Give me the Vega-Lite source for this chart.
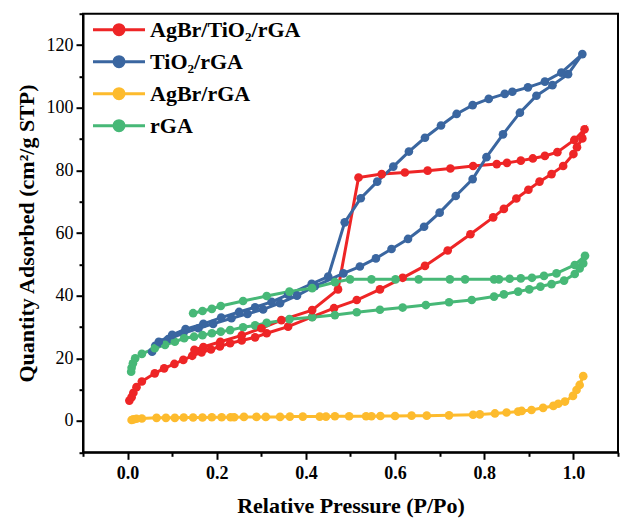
{
  "$schema": "https://vega.github.io/schema/vega-lite/v6.json",
  "width": 535,
  "height": 438.6,
  "autosize": {"type": "none"},
  "padding": {"left": 83, "top": 13.7, "right": 14, "bottom": 68.7},
  "background": "white",
  "config": {"view": {"stroke": "black", "strokeWidth": 2}, "font": "Liberation Serif"},
  "data": {"values": [
    {"s":"AgBr/TiO₂/rGA","i":1,"P":0.004,"Q":6.5},{"s":"AgBr/TiO₂/rGA","i":2,"P":0.009,"Q":7.6},{"s":"AgBr/TiO₂/rGA","i":3,"P":0.013,"Q":9.0},{"s":"AgBr/TiO₂/rGA","i":4,"P":0.020,"Q":10.8},{"s":"AgBr/TiO₂/rGA","i":5,"P":0.032,"Q":12.6},{"s":"AgBr/TiO₂/rGA","i":6,"P":0.061,"Q":15.2},{"s":"AgBr/TiO₂/rGA","i":7,"P":0.082,"Q":16.8},{"s":"AgBr/TiO₂/rGA","i":8,"P":0.105,"Q":18.2},{"s":"AgBr/TiO₂/rGA","i":9,"P":0.125,"Q":19.5},{"s":"AgBr/TiO₂/rGA","i":10,"P":0.145,"Q":20.8},{"s":"AgBr/TiO₂/rGA","i":11,"P":0.166,"Q":21.9},{"s":"AgBr/TiO₂/rGA","i":12,"P":0.187,"Q":22.8},{"s":"AgBr/TiO₂/rGA","i":13,"P":0.207,"Q":23.8},{"s":"AgBr/TiO₂/rGA","i":14,"P":0.230,"Q":24.8},{"s":"AgBr/TiO₂/rGA","i":15,"P":0.256,"Q":25.7},{"s":"AgBr/TiO₂/rGA","i":16,"P":0.286,"Q":26.7},{"s":"AgBr/TiO₂/rGA","i":17,"P":0.312,"Q":28.0},{"s":"AgBr/TiO₂/rGA","i":18,"P":0.360,"Q":30.1},{"s":"AgBr/TiO₂/rGA","i":19,"P":0.414,"Q":33.2},{"s":"AgBr/TiO₂/rGA","i":20,"P":0.463,"Q":36.0},{"s":"AgBr/TiO₂/rGA","i":21,"P":0.514,"Q":38.6},{"s":"AgBr/TiO₂/rGA","i":22,"P":0.566,"Q":42.0},{"s":"AgBr/TiO₂/rGA","i":23,"P":0.617,"Q":45.7},{"s":"AgBr/TiO₂/rGA","i":24,"P":0.667,"Q":49.5},{"s":"AgBr/TiO₂/rGA","i":25,"P":0.718,"Q":54.4},{"s":"AgBr/TiO₂/rGA","i":26,"P":0.769,"Q":59.6},{"s":"AgBr/TiO₂/rGA","i":27,"P":0.820,"Q":65.0},{"s":"AgBr/TiO₂/rGA","i":28,"P":0.844,"Q":67.7},{"s":"AgBr/TiO₂/rGA","i":29,"P":0.872,"Q":71.0},{"s":"AgBr/TiO₂/rGA","i":30,"P":0.899,"Q":73.8},{"s":"AgBr/TiO₂/rGA","i":31,"P":0.924,"Q":76.4},{"s":"AgBr/TiO₂/rGA","i":32,"P":0.951,"Q":78.8},{"s":"AgBr/TiO₂/rGA","i":33,"P":0.977,"Q":81.4},{"s":"AgBr/TiO₂/rGA","i":34,"P":1.000,"Q":85.2},{"s":"AgBr/TiO₂/rGA","i":35,"P":1.008,"Q":87.4},{"s":"AgBr/TiO₂/rGA","i":36,"P":1.020,"Q":90.2},{"s":"AgBr/TiO₂/rGA","i":37,"P":1.025,"Q":93.1},{"s":"AgBr/TiO₂/rGA","i":38,"P":1.002,"Q":89.7},{"s":"AgBr/TiO₂/rGA","i":39,"P":0.964,"Q":85.8},{"s":"AgBr/TiO₂/rGA","i":40,"P":0.936,"Q":84.6},{"s":"AgBr/TiO₂/rGA","i":41,"P":0.909,"Q":83.8},{"s":"AgBr/TiO₂/rGA","i":42,"P":0.882,"Q":83.1},{"s":"AgBr/TiO₂/rGA","i":43,"P":0.851,"Q":82.4},{"s":"AgBr/TiO₂/rGA","i":44,"P":0.828,"Q":82.0},{"s":"AgBr/TiO₂/rGA","i":45,"P":0.775,"Q":81.4},{"s":"AgBr/TiO₂/rGA","i":46,"P":0.724,"Q":80.6},{"s":"AgBr/TiO₂/rGA","i":47,"P":0.673,"Q":79.9},{"s":"AgBr/TiO₂/rGA","i":48,"P":0.622,"Q":79.3},{"s":"AgBr/TiO₂/rGA","i":49,"P":0.570,"Q":78.8},{"s":"AgBr/TiO₂/rGA","i":50,"P":0.518,"Q":77.7},{"s":"AgBr/TiO₂/rGA","i":51,"P":0.472,"Q":42.0},{"s":"AgBr/TiO₂/rGA","i":52,"P":0.414,"Q":35.4},{"s":"AgBr/TiO₂/rGA","i":53,"P":0.345,"Q":32.2},{"s":"AgBr/TiO₂/rGA","i":54,"P":0.300,"Q":29.6},{"s":"AgBr/TiO₂/rGA","i":55,"P":0.256,"Q":27.3},{"s":"AgBr/TiO₂/rGA","i":56,"P":0.208,"Q":25.3},{"s":"AgBr/TiO₂/rGA","i":57,"P":0.170,"Q":23.6},{"s":"AgBr/TiO₂/rGA","i":58,"P":0.150,"Q":22.7},

    {"s":"TiO₂/rGA","i":1,"P":0.055,"Q":22.1},{"s":"TiO₂/rGA","i":2,"P":0.062,"Q":24.0},{"s":"TiO₂/rGA","i":3,"P":0.075,"Q":25.0},{"s":"TiO₂/rGA","i":4,"P":0.091,"Q":26.1},{"s":"TiO₂/rGA","i":5,"P":0.125,"Q":28.0},{"s":"TiO₂/rGA","i":6,"P":0.159,"Q":29.6},{"s":"TiO₂/rGA","i":7,"P":0.192,"Q":31.0},{"s":"TiO₂/rGA","i":8,"P":0.233,"Q":32.8},{"s":"TiO₂/rGA","i":9,"P":0.269,"Q":34.2},{"s":"TiO₂/rGA","i":10,"P":0.304,"Q":35.6},{"s":"TiO₂/rGA","i":11,"P":0.342,"Q":37.6},{"s":"TiO₂/rGA","i":12,"P":0.380,"Q":40.0},{"s":"TiO₂/rGA","i":13,"P":0.420,"Q":43.0},{"s":"TiO₂/rGA","i":14,"P":0.484,"Q":47.1},{"s":"TiO₂/rGA","i":15,"P":0.521,"Q":49.3},{"s":"TiO₂/rGA","i":16,"P":0.557,"Q":51.9},{"s":"TiO₂/rGA","i":17,"P":0.592,"Q":54.9},{"s":"TiO₂/rGA","i":18,"P":0.629,"Q":58.1},{"s":"TiO₂/rGA","i":19,"P":0.665,"Q":62.0},{"s":"TiO₂/rGA","i":20,"P":0.700,"Q":66.5},{"s":"TiO₂/rGA","i":21,"P":0.736,"Q":71.8},{"s":"TiO₂/rGA","i":22,"P":0.774,"Q":77.2},{"s":"TiO₂/rGA","i":23,"P":0.805,"Q":84.2},{"s":"TiO₂/rGA","i":24,"P":0.842,"Q":91.5},{"s":"TiO₂/rGA","i":25,"P":0.880,"Q":98.4},{"s":"TiO₂/rGA","i":26,"P":0.917,"Q":103.8},{"s":"TiO₂/rGA","i":27,"P":0.953,"Q":107.2},{"s":"TiO₂/rGA","i":28,"P":0.988,"Q":110.7},{"s":"TiO₂/rGA","i":29,"P":1.020,"Q":117.1},{"s":"TiO₂/rGA","i":30,"P":0.973,"Q":111.2},{"s":"TiO₂/rGA","i":31,"P":0.936,"Q":108.3},{"s":"TiO₂/rGA","i":32,"P":0.898,"Q":106.5},{"s":"TiO₂/rGA","i":33,"P":0.863,"Q":105.1},{"s":"TiO₂/rGA","i":34,"P":0.846,"Q":104.4},{"s":"TiO₂/rGA","i":35,"P":0.810,"Q":102.8},{"s":"TiO₂/rGA","i":36,"P":0.774,"Q":100.8},{"s":"TiO₂/rGA","i":37,"P":0.738,"Q":98.0},{"s":"TiO₂/rGA","i":38,"P":0.703,"Q":94.3},{"s":"TiO₂/rGA","i":39,"P":0.667,"Q":90.4},{"s":"TiO₂/rGA","i":40,"P":0.631,"Q":86.0},{"s":"TiO₂/rGA","i":41,"P":0.596,"Q":81.2},{"s":"TiO₂/rGA","i":42,"P":0.560,"Q":76.4},{"s":"TiO₂/rGA","i":43,"P":0.523,"Q":71.1},{"s":"TiO₂/rGA","i":44,"P":0.487,"Q":63.4},{"s":"TiO₂/rGA","i":45,"P":0.450,"Q":46.1},{"s":"TiO₂/rGA","i":46,"P":0.413,"Q":43.8},{"s":"TiO₂/rGA","i":47,"P":0.360,"Q":40.3},{"s":"TiO₂/rGA","i":48,"P":0.323,"Q":38.0},{"s":"TiO₂/rGA","i":49,"P":0.286,"Q":36.3},{"s":"TiO₂/rGA","i":50,"P":0.250,"Q":34.8},{"s":"TiO₂/rGA","i":51,"P":0.210,"Q":33.0},{"s":"TiO₂/rGA","i":52,"P":0.170,"Q":31.0},{"s":"TiO₂/rGA","i":53,"P":0.130,"Q":29.3},{"s":"TiO₂/rGA","i":54,"P":0.100,"Q":27.5},{"s":"TiO₂/rGA","i":55,"P":0.070,"Q":25.3},

    {"s":"AgBr/rGA","i":1,"P":0.009,"Q":0.3},{"s":"AgBr/rGA","i":2,"P":0.013,"Q":0.5},{"s":"AgBr/rGA","i":3,"P":0.020,"Q":0.7},{"s":"AgBr/rGA","i":4,"P":0.032,"Q":0.8},{"s":"AgBr/rGA","i":5,"P":0.065,"Q":1.0},{"s":"AgBr/rGA","i":6,"P":0.086,"Q":1.0},{"s":"AgBr/rGA","i":7,"P":0.106,"Q":1.0},{"s":"AgBr/rGA","i":8,"P":0.126,"Q":1.1},{"s":"AgBr/rGA","i":9,"P":0.147,"Q":1.1},{"s":"AgBr/rGA","i":10,"P":0.168,"Q":1.1},{"s":"AgBr/rGA","i":11,"P":0.189,"Q":1.2},{"s":"AgBr/rGA","i":12,"P":0.211,"Q":1.2},{"s":"AgBr/rGA","i":13,"P":0.231,"Q":1.2},{"s":"AgBr/rGA","i":14,"P":0.239,"Q":1.2},{"s":"AgBr/rGA","i":15,"P":0.261,"Q":1.3},{"s":"AgBr/rGA","i":16,"P":0.289,"Q":1.3},{"s":"AgBr/rGA","i":17,"P":0.310,"Q":1.3},{"s":"AgBr/rGA","i":18,"P":0.342,"Q":1.3},{"s":"AgBr/rGA","i":19,"P":0.364,"Q":1.4},{"s":"AgBr/rGA","i":20,"P":0.393,"Q":1.4},{"s":"AgBr/rGA","i":21,"P":0.431,"Q":1.4},{"s":"AgBr/rGA","i":22,"P":0.445,"Q":1.4},{"s":"AgBr/rGA","i":23,"P":0.465,"Q":1.5},{"s":"AgBr/rGA","i":24,"P":0.497,"Q":1.5},{"s":"AgBr/rGA","i":25,"P":0.535,"Q":1.5},{"s":"AgBr/rGA","i":26,"P":0.547,"Q":1.5},{"s":"AgBr/rGA","i":27,"P":0.567,"Q":1.6},{"s":"AgBr/rGA","i":28,"P":0.600,"Q":1.6},{"s":"AgBr/rGA","i":29,"P":0.637,"Q":1.7},{"s":"AgBr/rGA","i":30,"P":0.671,"Q":1.7},{"s":"AgBr/rGA","i":31,"P":0.721,"Q":1.8},{"s":"AgBr/rGA","i":32,"P":0.775,"Q":2.0},{"s":"AgBr/rGA","i":33,"P":0.790,"Q":2.1},{"s":"AgBr/rGA","i":34,"P":0.824,"Q":2.4},{"s":"AgBr/rGA","i":35,"P":0.850,"Q":2.7},{"s":"AgBr/rGA","i":36,"P":0.876,"Q":3.0},{"s":"AgBr/rGA","i":37,"P":0.884,"Q":3.2},{"s":"AgBr/rGA","i":38,"P":0.906,"Q":3.5},{"s":"AgBr/rGA","i":39,"P":0.932,"Q":4.2},{"s":"AgBr/rGA","i":40,"P":0.955,"Q":4.8},{"s":"AgBr/rGA","i":41,"P":0.966,"Q":5.5},{"s":"AgBr/rGA","i":42,"P":0.981,"Q":6.2},{"s":"AgBr/rGA","i":43,"P":0.999,"Q":8.0},{"s":"AgBr/rGA","i":44,"P":1.007,"Q":9.9},{"s":"AgBr/rGA","i":45,"P":1.014,"Q":11.5},{"s":"AgBr/rGA","i":46,"P":1.022,"Q":14.3},

    {"s":"rGA","i":1,"P":0.008,"Q":15.7},{"s":"rGA","i":2,"P":0.009,"Q":17.0},{"s":"rGA","i":3,"P":0.012,"Q":18.4},{"s":"rGA","i":4,"P":0.017,"Q":20.0},{"s":"rGA","i":5,"P":0.032,"Q":21.4},{"s":"rGA","i":6,"P":0.061,"Q":23.2},{"s":"rGA","i":7,"P":0.084,"Q":24.3},{"s":"rGA","i":8,"P":0.106,"Q":25.3},{"s":"rGA","i":9,"P":0.127,"Q":26.4},{"s":"rGA","i":10,"P":0.149,"Q":26.9},{"s":"rGA","i":11,"P":0.168,"Q":27.4},{"s":"rGA","i":12,"P":0.189,"Q":28.0},{"s":"rGA","i":13,"P":0.209,"Q":28.5},{"s":"rGA","i":14,"P":0.230,"Q":29.0},{"s":"rGA","i":15,"P":0.259,"Q":29.9},{"s":"rGA","i":16,"P":0.286,"Q":30.5},{"s":"rGA","i":17,"P":0.312,"Q":31.3},{"s":"rGA","i":18,"P":0.363,"Q":32.5},{"s":"rGA","i":19,"P":0.414,"Q":33.1},{"s":"rGA","i":20,"P":0.465,"Q":33.8},{"s":"rGA","i":21,"P":0.514,"Q":34.7},{"s":"rGA","i":22,"P":0.566,"Q":35.5},{"s":"rGA","i":23,"P":0.617,"Q":36.2},{"s":"rGA","i":24,"P":0.669,"Q":37.0},{"s":"rGA","i":25,"P":0.721,"Q":37.9},{"s":"rGA","i":26,"P":0.772,"Q":38.6},{"s":"rGA","i":27,"P":0.822,"Q":39.7},{"s":"rGA","i":28,"P":0.844,"Q":40.4},{"s":"rGA","i":29,"P":0.876,"Q":41.3},{"s":"rGA","i":30,"P":0.901,"Q":42.0},{"s":"rGA","i":31,"P":0.926,"Q":42.9},{"s":"rGA","i":32,"P":0.951,"Q":43.7},{"s":"rGA","i":33,"P":0.979,"Q":44.8},{"s":"rGA","i":34,"P":1.003,"Q":46.9},{"s":"rGA","i":35,"P":1.014,"Q":48.7},{"s":"rGA","i":36,"P":1.022,"Q":50.3},{"s":"rGA","i":37,"P":1.026,"Q":52.7},{"s":"rGA","i":38,"P":1.003,"Q":49.8},{"s":"rGA","i":39,"P":0.962,"Q":47.1},{"s":"rGA","i":40,"P":0.934,"Q":46.3},{"s":"rGA","i":41,"P":0.907,"Q":45.7},{"s":"rGA","i":42,"P":0.882,"Q":45.5},{"s":"rGA","i":43,"P":0.857,"Q":45.4},{"s":"rGA","i":44,"P":0.833,"Q":45.2},{"s":"rGA","i":45,"P":0.822,"Q":45.2},{"s":"rGA","i":46,"P":0.757,"Q":45.2},{"s":"rGA","i":47,"P":0.723,"Q":45.2},{"s":"rGA","i":48,"P":0.653,"Q":45.2},{"s":"rGA","i":49,"P":0.601,"Q":45.2},{"s":"rGA","i":50,"P":0.547,"Q":45.2},{"s":"rGA","i":51,"P":0.499,"Q":45.2},{"s":"rGA","i":52,"P":0.465,"Q":44.3},{"s":"rGA","i":53,"P":0.414,"Q":42.4},{"s":"rGA","i":54,"P":0.363,"Q":41.3},{"s":"rGA","i":55,"P":0.312,"Q":39.9},{"s":"rGA","i":56,"P":0.259,"Q":38.3},{"s":"rGA","i":57,"P":0.209,"Q":36.7},{"s":"rGA","i":58,"P":0.189,"Q":35.8},{"s":"rGA","i":59,"P":0.168,"Q":35.1},{"s":"rGA","i":60,"P":0.147,"Q":34.4}
  ]},
  "mark": {"type": "line", "strokeWidth": 3, "point": {"filled": true, "size": 75, "opacity": 1}},
  "encoding": {
    "x": {
      "field": "P", "type": "quantitative",
      "scale": {"domain": [-0.1, 1.1], "nice": false, "zero": false},
      "axis": {
        "title": "Relative Pressure (P/Po)",
        "values": [-0.1, 0, 0.1, 0.2, 0.3, 0.4, 0.5, 0.6, 0.7, 0.8, 0.9, 1.0, 1.1],
        "labelExpr": "(datum.value > -0.05 && datum.value < 1.05 && round(datum.value * 10) % 2 == 0) ? format(datum.value, '.1f') : ''",
        "tickSize": {"condition": {"test": "round(datum.value * 10) % 2 == 0", "value": 7}, "value": 4},
        "grid": false, "domainColor": "black", "domainWidth": 2, "tickColor": "black", "tickWidth": 2,
        "labelFont": "Liberation Serif", "labelFontWeight": "bold", "labelFontSize": 18, "labelColor": "black",
        "labelPadding": 5, "labelOverlap": false, "labelFlush": false,
        "titleFont": "Liberation Serif", "titleFontWeight": "bold", "titleFontSize": 22, "titleColor": "black", "titlePadding": 13
      }
    },
    "y": {
      "field": "Q", "type": "quantitative",
      "scale": {"domain": [-10, 130], "nice": false, "zero": false},
      "axis": {
        "title": "Quantity Adsorbed (cm²/g STP)",
        "values": [-10, 0, 10, 20, 30, 40, 50, 60, 70, 80, 90, 100, 110, 120, 130],
        "labelExpr": "(datum.value >= 0 && datum.value <= 120 && datum.value % 20 == 0) ? datum.label : ''",
        "tickSize": {"condition": {"test": "datum.value % 20 == 0", "value": 7}, "value": 4},
        "grid": false, "domainColor": "black", "domainWidth": 2, "tickColor": "black", "tickWidth": 2,
        "labelFont": "Liberation Serif", "labelFontWeight": "normal", "labelFontSize": 18, "labelColor": "black",
        "labelPadding": 3, "labelOverlap": false, "labelFlush": false,
        "titleFont": "Liberation Serif", "titleFontWeight": "bold", "titleFontSize": 22, "titleColor": "black", "titlePadding": 8
      }
    },
    "color": {
      "field": "s", "type": "nominal",
      "scale": {"domain": ["AgBr/TiO₂/rGA", "TiO₂/rGA", "AgBr/rGA", "rGA"], "range": ["#EE2526", "#3A66A0", "#FDBB2D", "#47B877"]},
      "legend": {
        "title": null, "orient": "none", "legendX": 25, "legendY": 5, "padding": 0,
        "labelFont": "Liberation Serif", "labelFontWeight": "bold", "labelFontSize": 22, "labelColor": "black",
        "symbolType": "M-5.2,0L5.2,0M-1,0A1,1 0 1,1 1,0A1,1 0 1,1 -1,0Z",
        "symbolSize": 100, "symbolStrokeWidth": 3, "symbolOpacity": 1,
        "labelOffset": 20, "rowPadding": 10,
        "encode": {"symbols": {"update": {"fill": {"scale": "color", "field": "value"}, "stroke": {"scale": "color", "field": "value"}}}}
      }
    },
    "order": {"field": "i", "type": "quantitative"}
  }
}
